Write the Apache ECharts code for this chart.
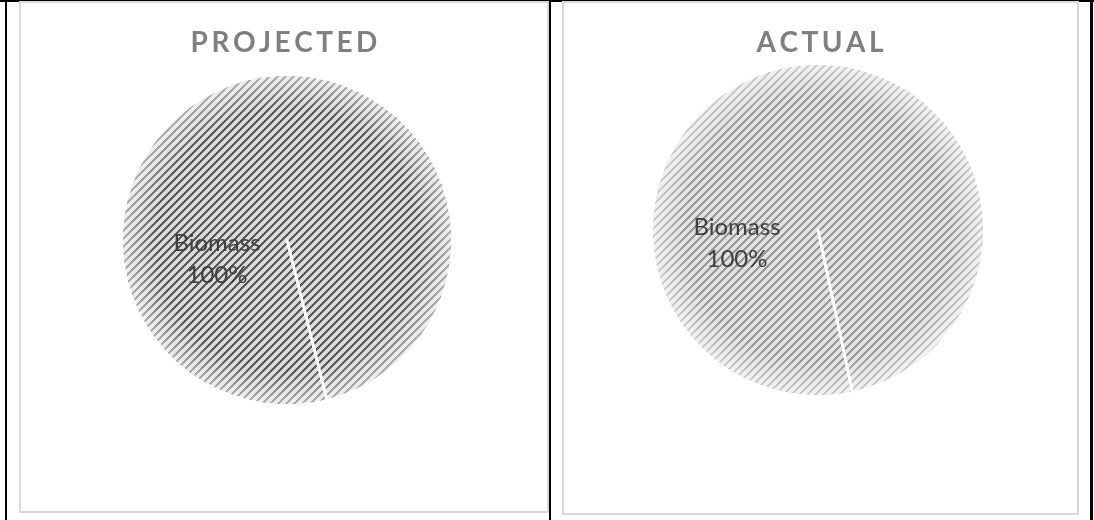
<!DOCTYPE html>
<html>
<head>
<meta charset="utf-8">
<script src="https://cdn.jsdelivr.net/npm/echarts@6/dist/echarts.min.js"></script>
<style>
  html, body { margin: 0; padding: 0; background: #fff; }
  #wrap { position: relative; width: 1094px; height: 520px; overflow: hidden; }
  .blk { position: absolute; background: #000; }
  .box { position: absolute; background: #fff; border: 2px solid #d9d9d9; box-sizing: border-box; }
  #chart { position: absolute; left: 0; top: 0; width: 1094px; height: 520px; }
</style>
</head>
<body>
<div id="wrap">
  <div class="blk" style="left:0;top:0;width:1094px;height:2px"></div>
  <div class="blk" style="left:5px;top:0;width:2px;height:520px"></div>
  <div class="blk" style="left:549px;top:0;width:2px;height:520px"></div>
  <div class="blk" style="left:1090px;top:0;width:3px;height:520px"></div>
  <div class="box" style="left:19px;top:1px;width:530px;height:512px"></div>
  <div class="box" style="left:562px;top:1px;width:517px;height:514px"></div>
  <div id="chart"></div>
</div>
<script>
// ---- data ----
const chartTitles = ['PROJECTED', 'ACTUAL'];
const categories = ['Biomass'];
const projectedValues = [100];
const actualValues = [100];

function spaced(t) { return t.split('').join('\u2009'); }

// upward diagonal hatch pattern fill
function makePattern(dark, light) {
  const c = document.createElement('canvas');
  c.width = 8; c.height = 8;
  const g = c.getContext('2d');
  g.fillStyle = light; g.fillRect(0, 0, 8, 8);
  g.fillStyle = dark;
  for (let y = 0; y < 8; y++) {
    for (let x = 0; x < 8; x++) {
      if (((x + y) % 8) < 3) g.fillRect(x, y, 1, 1);
    }
  }
  return { image: c, repeat: 'repeat' };
}

function buildData(values, pattern) {
  const d = categories.map((name, i) => ({
    name: name, value: values[i],
    itemStyle: { color: pattern, borderWidth: 0 }
  }));
  d.push({
    name: '', value: 0,
    itemStyle: { color: 'transparent', borderColor: '#ffffff', borderWidth: 3 },
    label: { show: false }, labelLine: { show: false }
  });
  return d;
}

function fadeData(values) {
  return categories.map((name, i) => ({ name: name, value: values[i] }));
}

const fade = {
  type: 'radial', x: 0.5, y: 0.5, r: 0.5,
  colorStops: [
    { offset: 0, color: 'rgba(255,255,255,0)' },
    { offset: 0.8, color: 'rgba(255,255,255,0)' },
    { offset: 1, color: 'rgba(255,255,255,0.55)' }
  ]
};

const labelStyle = {
  show: true, position: 'center', formatter: '{b}\n{d}%',
  fontFamily: 'Lato', fontSize: 24, color: '#404040', lineHeight: 32
};

const chart = echarts.init(document.getElementById('chart'), null, { renderer: 'canvas' });
chart.setOption({
  animation: false,
  title: [
    { text: spaced(chartTitles[0]), left: 284, top: 29, textAlign: 'center', padding: 0,
      textStyle: { fontFamily: 'Lato', fontWeight: 'bold', fontSize: 28, color: '#7f7f7f' } },
    { text: spaced(chartTitles[1]), left: 820, top: 29, textAlign: 'center', padding: 0,
      textStyle: { fontFamily: 'Lato', fontWeight: 'bold', fontSize: 28, color: '#7f7f7f' } }
  ],
  series: [
    { type: 'pie', center: [287, 240], radius: 164, startAngle: 284, clockwise: true,
      silent: true, data: buildData(projectedValues, makePattern('#595959', '#dadada')),
      label: Object.assign({}, labelStyle, { offset: [-70, 19] }), labelLine: { show: false }, z: 2 },
    { type: 'pie', center: [287, 240], radius: 164, silent: true,
      data: fadeData(projectedValues), itemStyle: { color: fade }, label: { show: false }, z: 3 },
    { type: 'pie', center: [818, 230], radius: 165, startAngle: 282, clockwise: true,
      silent: true, data: buildData(actualValues, makePattern('#999999', '#e2e2e2')),
      label: Object.assign({}, labelStyle, { offset: [-81, 13] }), labelLine: { show: false }, z: 2 },
    { type: 'pie', center: [818, 230], radius: 165, silent: true,
      data: fadeData(actualValues), itemStyle: { color: fade }, label: { show: false }, z: 3 }
  ]
});
</script>
</body>
</html>
